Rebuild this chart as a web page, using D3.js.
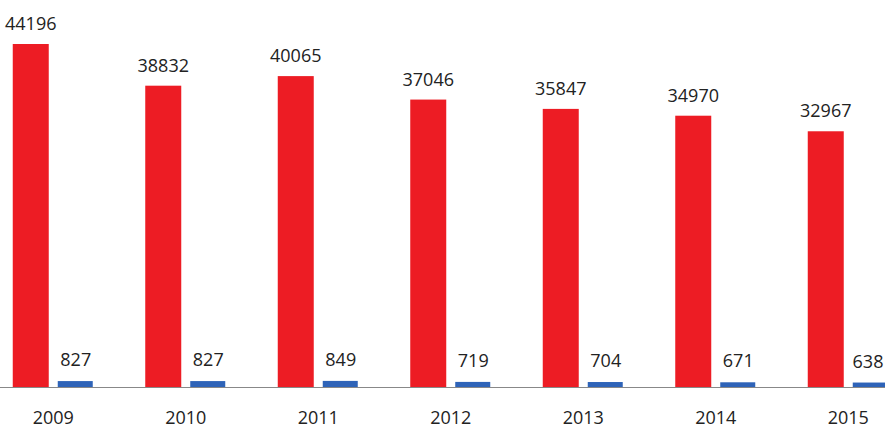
<!DOCTYPE html>
<html><head><meta charset="utf-8">
<script src="https://cdn.jsdelivr.net/npm/d3@7"></script>
<style>body{margin:0;background:#fff}svg{display:block}text{font-family:"Open Sans",sans-serif;fill:#222}</style>
</head><body><svg id="c" width="885" height="428"></svg>
<script>
const years = ["2009","2010","2011","2012","2013","2014","2015"];
const redValues = [44196,38832,40065,37046,35847,34970,32967];
const blueValues = [827,827,849,719,704,671,638];

const svg = d3.select("#c");
const baseY = 387.5;
const x = d3.scaleBand().domain(years).range([-13, -13 + 132.5*7]).paddingInner(0).paddingOuter(0);
const y = d3.scaleLinear().domain([0, 44196]).range([baseY, 44]);
const barW = 36, gap = 9;

const g = svg.append("g");
years.forEach((yr,i)=>{
  const cx = x(yr) + x.bandwidth()/2;
  const rx = cx - gap/2 - barW;
  const bx = cx + gap/2;
  g.append("rect").attr("x",rx).attr("y",y(redValues[i])).attr("width",barW).attr("height",baseY-y(redValues[i])).attr("fill","#ED1C24");
  g.append("rect").attr("x",bx).attr("y",y(blueValues[i])).attr("width",barW-1).attr("height",baseY-y(blueValues[i])).attr("fill","#2E63B8");
  g.append("text").attr("x",rx+barW/2).attr("y",y(redValues[i])-14).attr("text-anchor","middle").attr("font-size",18).text(redValues[i]);
  g.append("text").attr("x",Math.min(bx+barW/2, 868)).attr("y",y(blueValues[i])-15).attr("text-anchor","middle").attr("font-size",18).text(blueValues[i]);
});

svg.append("line").attr("x1",0).attr("x2",885).attr("y1",baseY).attr("y2",baseY).attr("stroke","#888").attr("stroke-width",1);

const axis = d3.axisBottom(x).tickSize(0).tickPadding(0);
const ag = svg.append("g").attr("transform",`translate(0,${baseY})`).call(axis);
ag.select(".domain").remove();
ag.selectAll("text").attr("font-size",18).attr("dy",null).attr("y",36.5).style("font-family","'Open Sans',sans-serif").attr("fill","#222");
</script></body></html>
